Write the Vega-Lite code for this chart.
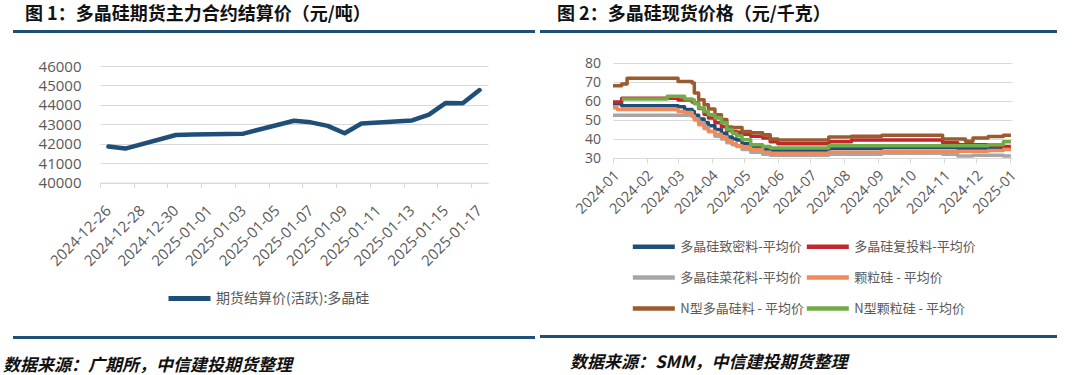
{
  "$schema": "https://vega.github.io/schema/vega-lite/v6.json",
  "padding": {"left": 3, "top": 6, "right": 0, "bottom": 10},
  "background": "white",
  "config": {
    "view": {"stroke": null},
    "font": "Noto Sans CJK SC",
    "axis": {"labelFont": "Open Sans", "labelColor": "#595959"}
  },
  "spacing": 5,
  "resolve": {"scale": {"x": "independent", "y": "independent", "color": "independent"}, "axis": {"x": "independent", "y": "independent"}, "legend": {"color": "independent"}},
  "hconcat": [
    {
      "spacing": 27,
      "resolve": {"scale": {"x": "independent", "y": "independent", "color": "independent"}, "axis": {"x": "independent", "y": "independent"}, "legend": {"color": "independent"}},
      "vconcat": [
        {
          "spacing": 26,
          "resolve": {"scale": {"x": "independent", "y": "independent", "color": "independent"}, "axis": {"x": "independent", "y": "independent"}, "legend": {"color": "independent"}},
          "vconcat": [
            {
              "width": 522, "height": 3,
              "view": {"fill": "#1E5077", "stroke": null},
              "title": {"text": "图 1：多晶硅期货主力合约结算价（元/吨）", "anchor": "start", "frame": "group", "dx": 12, "offset": -12, "baseline": "bottom", "fontSize": 18, "fontWeight": "bold", "font": "Noto Sans CJK SC", "color": "#111111"},
              "data": {"values": [{}]},
              "mark": {"type": "text", "text": "", "fontSize": 1},
              "encoding": {}
            },
            {
              "spacing": 10,
              "resolve": {"scale": {"x": "independent", "y": "independent", "color": "independent"}, "axis": {"x": "independent", "y": "independent"}, "legend": {"color": "independent"}},
              "hconcat": [
                {
                  "width": 2, "height": 1,
                  "data": {"values": [{}]},
                  "mark": {"type": "text", "text": "", "fontSize": 1},
                  "encoding": {}
                },
                {
                  "width": 388, "height": 116.6,
                  "data": {
                    "format": {"parse": {"date": "date:'%Y-%m-%d'"}},
                    "values": [
                      {"date": "2024-12-26", "price": 41860},
                      {"date": "2024-12-27", "price": 41750},
                      {"date": "2024-12-30", "price": 42450},
                      {"date": "2024-12-31", "price": 42480},
                      {"date": "2025-01-02", "price": 42500},
                      {"date": "2025-01-03", "price": 42520},
                      {"date": "2025-01-06", "price": 43180},
                      {"date": "2025-01-07", "price": 43100},
                      {"date": "2025-01-08", "price": 42920},
                      {"date": "2025-01-09", "price": 42540},
                      {"date": "2025-01-10", "price": 43040},
                      {"date": "2025-01-13", "price": 43200},
                      {"date": "2025-01-14", "price": 43500},
                      {"date": "2025-01-15", "price": 44100},
                      {"date": "2025-01-16", "price": 44080},
                      {"date": "2025-01-17", "price": 44760}
                    ]
                  },
                  "mark": {"type": "line", "strokeWidth": 4.5, "strokeCap": "round", "strokeJoin": "round"},
                  "encoding": {
                    "x": {
                      "field": "date", "type": "temporal",
                      "scale": {"domain": [{"year": 2024, "month": 12, "date": 25, "hours": 12}, {"year": 2025, "month": 1, "date": 17, "hours": 12}]},
                      "axis": {
                        "title": null,
                        "values": [
                          {"year": 2024, "month": 12, "date": 26}, {"year": 2024, "month": 12, "date": 28}, {"year": 2024, "month": 12, "date": 30},
                          {"year": 2025, "month": 1, "date": 1}, {"year": 2025, "month": 1, "date": 3}, {"year": 2025, "month": 1, "date": 5},
                          {"year": 2025, "month": 1, "date": 7}, {"year": 2025, "month": 1, "date": 9}, {"year": 2025, "month": 1, "date": 11},
                          {"year": 2025, "month": 1, "date": 13}, {"year": 2025, "month": 1, "date": 15}, {"year": 2025, "month": 1, "date": 17}
                        ],
                        "format": "%Y-%m-%d",
                        "labelAngle": -45, "labelAlign": "right", "labelBaseline": "middle",
                        "labelFontSize": 15, "labelColor": "#595959",
                        "tickOffset": -8.43, "labelOffset": 8, "tickSize": 5, "tickColor": "#d9d9d9",
                        "domainColor": "#d9d9d9", "grid": false, "labelPadding": 20,
                        "labelOverlap": false, "labelFlush": false, "labelBound": false
                      }
                    },
                    "y": {
                      "field": "price", "type": "quantitative",
                      "scale": {"domain": [40000, 46000], "nice": false, "zero": false},
                      "axis": {
                        "title": null, "values": [40000, 41000, 42000, 43000, 44000, 45000, 46000], "format": "d",
                        "labelFontSize": 15, "grid": true, "gridColor": "#d9d9d9", "domain": false, "ticks": false, "tickSize": 0,
                        "labelPadding": 19, "minExtent": 75
                      }
                    },
                    "color": {
                      "datum": "期货结算价(活跃):多晶硅",
                      "scale": {"range": ["#1F4E79"]},
                      "legend": {
                        "orient": "none", "legendX": 72, "legendY": 215, "title": null,
                        "symbolType": "M-1.4,0H1.4", "symbolSize": 900, "symbolStrokeWidth": 5,
                        "labelFontSize": 14, "labelColor": "#595959", "labelFont": "Noto Sans CJK SC", "labelOffset": 9
                      }
                    }
                  }
                }
              ]
            }
          ]
        },
        {
          "width": 522, "height": 3,
          "view": {"fill": "#1E5077", "stroke": null},
          "title": {"text": "数据来源：广期所，中信建投期货整理", "orient": "bottom", "anchor": "start", "frame": "group", "dx": -10, "offset": 19, "baseline": "top", "fontSize": 17, "fontStyle": "italic", "fontWeight": "bold", "font": "Noto Sans CJK SC", "color": "#111111"},
          "data": {"values": [{}]},
          "mark": {"type": "text", "text": "", "fontSize": 1},
          "encoding": {}
        }
      ]
    },
    {
      "spacing": 17,
      "resolve": {"scale": {"x": "independent", "y": "independent", "color": "independent"}, "axis": {"x": "independent", "y": "independent"}, "legend": {"color": "independent"}},
      "vconcat": [
        {
          "spacing": 23,
          "resolve": {"scale": {"x": "independent", "y": "independent", "color": "independent"}, "axis": {"x": "independent", "y": "independent"}, "legend": {"color": "independent"}},
          "vconcat": [
            {
              "width": 517, "height": 3,
              "view": {"fill": "#1E5077", "stroke": null},
              "title": {"text": "图 2：多晶硅现货价格（元/千克）", "anchor": "start", "frame": "group", "dx": 17, "offset": -12, "baseline": "bottom", "fontSize": 18, "fontWeight": "bold", "font": "Noto Sans CJK SC", "color": "#111111"},
              "data": {"values": [{}]},
              "mark": {"type": "text", "text": "", "fontSize": 1},
              "encoding": {}
            },
            {
              "spacing": 11,
              "resolve": {"scale": {"x": "independent", "y": "independent", "color": "independent"}, "axis": {"x": "independent", "y": "independent"}, "legend": {"color": "independent"}},
              "hconcat": [
                {
                  "width": 2, "height": 1,
                  "data": {"values": [{}]},
                  "mark": {"type": "text", "text": "", "fontSize": 1},
                  "encoding": {}
                },
                {
                  "width": 399, "height": 95,
                  "data": {
                    "format": {"parse": {"date": "date:'%Y-%m-%d'"}},
                    "values": [
                      {"date": "2024-01-01", "多晶硅致密料-平均价": 58.5, "多晶硅复投料-平均价": 59.5, "多晶硅菜花料-平均价": 52.5, "颗粒硅 - 平均价": 56.5, "N型多晶硅料 - 平均价": 68},
                      {"date": "2024-01-05", "多晶硅致密料-平均价": 58.5, "多晶硅复投料-平均价": 59.5, "多晶硅菜花料-平均价": 52.5, "颗粒硅 - 平均价": 55.5, "N型多晶硅料 - 平均价": 68},
                      {"date": "2024-01-09", "多晶硅致密料-平均价": 57.5, "多晶硅复投料-平均价": 61.5, "多晶硅菜花料-平均价": 52.5, "颗粒硅 - 平均价": 55.5, "N型多晶硅料 - 平均价": 69, "N型颗粒硅 - 平均价": 61},
                      {"date": "2024-01-14", "多晶硅致密料-平均价": 57.5, "多晶硅复投料-平均价": 61.5, "多晶硅菜花料-平均价": 52.5, "颗粒硅 - 平均价": 55.5, "N型多晶硅料 - 平均价": 72, "N型颗粒硅 - 平均价": 61},
                      {"date": "2024-02-20", "多晶硅致密料-平均价": 57.5, "多晶硅复投料-平均价": 61.5, "多晶硅菜花料-平均价": 52.5, "颗粒硅 - 平均价": 55.5, "N型多晶硅料 - 平均价": 72, "N型颗粒硅 - 平均价": 62.5},
                      {"date": "2024-03-01", "多晶硅致密料-平均价": 57, "多晶硅复投料-平均价": 60.5, "多晶硅菜花料-平均价": 52.5, "颗粒硅 - 平均价": 54.5, "N型多晶硅料 - 平均价": 70.3, "N型颗粒硅 - 平均价": 62.5},
                      {"date": "2024-03-07", "多晶硅致密料-平均价": 55.5, "多晶硅复投料-平均价": 60.5, "多晶硅菜花料-平均价": 52.5, "颗粒硅 - 平均价": 54, "N型多晶硅料 - 平均价": 70.3, "N型颗粒硅 - 平均价": 61},
                      {"date": "2024-03-14", "多晶硅致密料-平均价": 54.5, "多晶硅复投料-平均价": 59.5, "多晶硅菜花料-平均价": 52, "颗粒硅 - 平均价": 52, "N型多晶硅料 - 平均价": 69.5, "N型颗粒硅 - 平均价": 60.5},
                      {"date": "2024-03-16", "多晶硅致密料-平均价": 52.5, "多晶硅复投料-平均价": 59, "多晶硅菜花料-平均价": 50.5, "颗粒硅 - 平均价": 50, "N型多晶硅料 - 平均价": 64.2, "N型颗粒硅 - 平均价": 58.5},
                      {"date": "2024-03-20", "多晶硅致密料-平均价": 50.5, "多晶硅复投料-平均价": 56, "多晶硅菜花料-平均价": 48.5, "颗粒硅 - 平均价": 47.5, "N型多晶硅料 - 平均价": 60.7, "N型颗粒硅 - 平均价": 56.3},
                      {"date": "2024-03-25", "多晶硅致密料-平均价": 48.5, "多晶硅复投料-平均价": 53, "多晶硅菜花料-平均价": 46, "颗粒硅 - 平均价": 45.5, "N型多晶硅料 - 平均价": 58, "N型颗粒硅 - 平均价": 54.5},
                      {"date": "2024-03-29", "多晶硅致密料-平均价": 47, "多晶硅复投料-平均价": 51, "多晶硅菜花料-平均价": 44, "颗粒硅 - 平均价": 44, "N型多晶硅料 - 平均价": 55.8, "N型颗粒硅 - 平均价": 52.8},
                      {"date": "2024-04-04", "多晶硅致密料-平均价": 45, "多晶硅复投料-平均价": 48.5, "多晶硅菜花料-平均价": 41.5, "颗粒硅 - 平均价": 42.5, "N型多晶硅料 - 平均价": 52.8, "N型颗粒硅 - 平均价": 51},
                      {"date": "2024-04-10", "多晶硅致密料-平均价": 43, "多晶硅复投料-平均价": 46.5, "多晶硅菜花料-平均价": 40, "颗粒硅 - 平均价": 41, "N型多晶硅料 - 平均价": 50.2, "N型颗粒硅 - 平均价": 48.5},
                      {"date": "2024-04-15", "多晶硅致密料-平均价": 41, "多晶硅复投料-平均价": 44.5, "多晶硅菜花料-平均价": 38, "颗粒硅 - 平均价": 39, "N型多晶硅料 - 平均价": 46.3, "N型颗粒硅 - 平均价": 45},
                      {"date": "2024-04-20", "多晶硅致密料-平均价": 40, "多晶硅复投料-平均价": 44, "多晶硅菜花料-平均价": 37, "颗粒硅 - 平均价": 37.5, "N型多晶硅料 - 平均价": 46, "N型颗粒硅 - 平均价": 43},
                      {"date": "2024-04-24", "多晶硅致密料-平均价": 39.5, "多晶硅复投料-平均价": 43.5, "多晶硅菜花料-平均价": 36, "颗粒硅 - 平均价": 36.5, "N型多晶硅料 - 平均价": 46, "N型颗粒硅 - 平均价": 41.7},
                      {"date": "2024-04-29", "多晶硅致密料-平均价": 37.5, "多晶硅复投料-平均价": 42.5, "多晶硅菜花料-平均价": 34.5, "颗粒硅 - 平均价": 35.5, "N型多晶硅料 - 平均价": 44, "N型颗粒硅 - 平均价": 39.6},
                      {"date": "2024-05-07", "多晶硅致密料-平均价": 36, "多晶硅复投料-平均价": 41.5, "多晶硅菜花料-平均价": 33, "颗粒硅 - 平均价": 34.5, "N型多晶硅料 - 平均价": 43.3, "N型颗粒硅 - 平均价": 37},
                      {"date": "2024-05-18", "多晶硅致密料-平均价": 34.5, "多晶硅复投料-平均价": 40.5, "多晶硅菜花料-平均价": 32, "颗粒硅 - 平均价": 33, "N型多晶硅料 - 平均价": 42.3, "N型颗粒硅 - 平均价": 36},
                      {"date": "2024-05-25", "多晶硅致密料-平均价": 34, "多晶硅复投料-平均价": 38.5, "多晶硅菜花料-平均价": 31.5, "颗粒硅 - 平均价": 32.5, "N型多晶硅料 - 平均价": 40, "N型颗粒硅 - 平均价": 35.3},
                      {"date": "2024-06-01", "多晶硅致密料-平均价": 34, "多晶硅复投料-平均价": 37.5, "多晶硅菜花料-平均价": 31.5, "颗粒硅 - 平均价": 32.5, "N型多晶硅料 - 平均价": 39.5, "N型颗粒硅 - 平均价": 35.3},
                      {"date": "2024-07-18", "多晶硅致密料-平均价": 35, "多晶硅复投料-平均价": 38.5, "多晶硅菜花料-平均价": 32, "颗粒硅 - 平均价": 33, "N型多晶硅料 - 平均价": 41, "N型颗粒硅 - 平均价": 36.5},
                      {"date": "2024-08-08", "多晶硅致密料-平均价": 35, "多晶硅复投料-平均价": 39.5, "多晶硅菜花料-平均价": 32, "颗粒硅 - 平均价": 33, "N型多晶硅料 - 平均价": 41.5, "N型颗粒硅 - 平均价": 36.5},
                      {"date": "2024-09-05", "多晶硅致密料-平均价": 35.5, "多晶硅复投料-平均价": 39.5, "多晶硅菜花料-平均价": 32.5, "颗粒硅 - 平均价": 33.5, "N型多晶硅料 - 平均价": 42, "N型颗粒硅 - 平均价": 36.5},
                      {"date": "2024-10-31", "多晶硅致密料-平均价": 35.5, "多晶硅复投料-平均价": 38, "多晶硅菜花料-平均价": 32, "颗粒硅 - 平均价": 33.5, "N型多晶硅料 - 平均价": 40, "N型颗粒硅 - 平均价": 36.5},
                      {"date": "2024-11-14", "多晶硅致密料-平均价": 35, "多晶硅复投料-平均价": 37, "多晶硅菜花料-平均价": 31, "颗粒硅 - 平均价": 33.5, "N型多晶硅料 - 平均价": 40, "N型颗粒硅 - 平均价": 36.5},
                      {"date": "2024-11-21", "多晶硅致密料-平均价": 35, "多晶硅复投料-平均价": 37, "多晶硅菜花料-平均价": 31, "颗粒硅 - 平均价": 33.5, "N型多晶硅料 - 平均价": 38.8, "N型颗粒硅 - 平均价": 36.5},
                      {"date": "2024-11-28", "多晶硅致密料-平均价": 35, "多晶硅复投料-平均价": 37, "多晶硅菜花料-平均价": 31.5, "颗粒硅 - 平均价": 33.5, "N型多晶硅料 - 平均价": 40.5, "N型颗粒硅 - 平均价": 36.5},
                      {"date": "2024-12-12", "多晶硅致密料-平均价": 35, "多晶硅复投料-平均价": 36.5, "多晶硅菜花料-平均价": 31.5, "颗粒硅 - 平均价": 34, "N型多晶硅料 - 平均价": 41.3, "N型颗粒硅 - 平均价": 37},
                      {"date": "2024-12-26", "多晶硅致密料-平均价": 35, "多晶硅复投料-平均价": 36, "多晶硅菜花料-平均价": 31, "颗粒硅 - 平均价": 34.5, "N型多晶硅料 - 平均价": 42, "N型颗粒硅 - 平均价": 38.5},
                      {"date": "2025-01-02", "多晶硅致密料-平均价": 35, "多晶硅复投料-平均价": 36, "多晶硅菜花料-平均价": 31, "颗粒硅 - 平均价": 34.5, "N型多晶硅料 - 平均价": 42, "N型颗粒硅 - 平均价": 38.5}
                    ]
                  },
                  "transform": [
                    {"fold": ["多晶硅致密料-平均价", "多晶硅复投料-平均价", "多晶硅菜花料-平均价", "颗粒硅 - 平均价", "N型多晶硅料 - 平均价", "N型颗粒硅 - 平均价"], "as": ["series", "price"]}
                  ],
                  "mark": {"type": "line", "strokeWidth": 3.5, "interpolate": "step-after", "strokeJoin": "round"},
                  "encoding": {
                    "x": {
                      "field": "date", "type": "temporal",
                      "scale": {"domain": [{"year": 2024, "month": 1, "date": 1}, {"year": 2025, "month": 1, "date": 3}]},
                      "axis": {
                        "title": null,
                        "values": [
                          {"year": 2024, "month": 1, "date": 1}, {"year": 2024, "month": 2, "date": 1}, {"year": 2024, "month": 3, "date": 1},
                          {"year": 2024, "month": 4, "date": 1}, {"year": 2024, "month": 5, "date": 1}, {"year": 2024, "month": 6, "date": 1},
                          {"year": 2024, "month": 7, "date": 1}, {"year": 2024, "month": 8, "date": 1}, {"year": 2024, "month": 9, "date": 1},
                          {"year": 2024, "month": 10, "date": 1}, {"year": 2024, "month": 11, "date": 1}, {"year": 2024, "month": 12, "date": 1},
                          {"year": 2025, "month": 1, "date": 1}
                        ],
                        "format": "%Y-%m",
                        "labelAngle": -45, "labelAlign": "right", "labelBaseline": "middle",
                        "labelFontSize": 14.5, "labelColor": "#595959",
                        "labelOffset": 4, "tickSize": 5, "tickColor": "#d9d9d9",
                        "domainColor": "#d9d9d9", "grid": false, "labelPadding": 10,
                        "labelOverlap": false, "labelFlush": false, "labelBound": false
                      }
                    },
                    "y": {
                      "field": "price", "type": "quantitative",
                      "scale": {"domain": [30, 80], "nice": false, "zero": false},
                      "axis": {
                        "title": null, "values": [30, 40, 50, 60, 70, 80],
                        "labelFontSize": 14, "grid": true, "gridColor": "#d9d9d9", "domain": false, "ticks": false, "tickSize": 0,
                        "labelPadding": 12.5, "minExtent": 60
                      }
                    },
                    "color": {
                      "field": "series", "type": "nominal",
                      "scale": {
                        "domain": ["多晶硅致密料-平均价", "多晶硅复投料-平均价", "多晶硅菜花料-平均价", "颗粒硅 - 平均价", "N型多晶硅料 - 平均价", "N型颗粒硅 - 平均价"],
                        "range": ["#1F4E79", "#C0282D", "#A6A6A6", "#F08A5B", "#9C5B2E", "#70AD47"]
                      },
                      "legend": {
                        "orient": "none", "legendX": 23.3, "legendY": 166, "title": null, "columns": 2, "direction": "horizontal",
                        "symbolType": "M-1.4,0H1.4", "symbolSize": 900, "symbolStrokeWidth": 4.5,
                        "labelFontSize": 13, "labelColor": "#595959", "labelFont": "Noto Sans CJK SC", "labelOffset": 9,
                        "columnPadding": -7, "rowPadding": 4, "labelLimit": 300
                      }
                    }
                  }
                }
              ]
            }
          ]
        },
        {
          "width": 517, "height": 3,
          "view": {"fill": "#1E5077", "stroke": null},
          "title": {"text": "数据来源：SMM，中信建投期货整理", "orient": "bottom", "anchor": "start", "frame": "group", "dx": 30, "offset": 17, "baseline": "top", "fontSize": 17, "fontStyle": "italic", "fontWeight": "bold", "font": "Noto Sans CJK SC", "color": "#111111"},
          "data": {"values": [{}]},
          "mark": {"type": "text", "text": "", "fontSize": 1},
          "encoding": {}
        }
      ]
    }
  ]
}
